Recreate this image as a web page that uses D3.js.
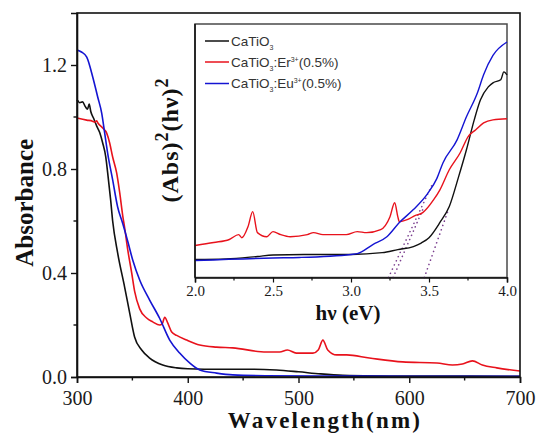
<!DOCTYPE html>
<html>
<head>
<meta charset="utf-8">
<script src="https://cdn.jsdelivr.net/npm/d3@7"></script>
<style>
  html, body { margin: 0; padding: 0; background: #fff; }
  svg { display: block; }
</style>
</head>
<body>
<svg id="chart" width="537" height="435"></svg>
<script>
// UV-Vis absorbance spectra: [wavelength (nm), absorbance]
const pureSpectrum = [
  [300, 1.066], [300.6, 1.063], [302.5, 1.055], [305, 1.058], [307.5, 1.04], [309.5, 1.03],
  [311, 1.05], [312.5, 1.02], [315, 0.995], [317.8, 0.965], [320.5, 0.94], [323.2, 0.90],
  [326, 0.846], [327.7, 0.785], [330.4, 0.68], [332.2, 0.60], [336.7, 0.477], [343, 0.346],
  [347.6, 0.246], [352, 0.154], [358.4, 0.104], [365.6, 0.073], [377.4, 0.046], [390, 0.035],
  [400, 0.032], [430, 0.030], [460, 0.030], [480, 0.027], [500, 0.020], [520, 0.012],
  [540, 0.007], [600, 0.004], [700, 0.003]
];
const erSpectrum = [
  [300, 0.996], [308.8, 0.988], [314, 0.984], [316, 0.98], [317.8, 0.985], [319, 0.976],
  [323.2, 0.958], [326.8, 0.938], [329.5, 0.90], [332.2, 0.846], [335.8, 0.785], [338.6, 0.708],
  [341.3, 0.62], [343, 0.575], [345.8, 0.49], [349.4, 0.40], [352, 0.33], [356.6, 0.262],
  [362.9, 0.227], [368.4, 0.212], [374.7, 0.20], [377, 0.205], [379.2, 0.23], [381.9, 0.208],
  [385.5, 0.173], [390, 0.16], [399, 0.142], [410.8, 0.123], [426, 0.115], [440.6, 0.112],
  [471, 0.096], [483, 0.096], [490, 0.104], [498, 0.092], [513, 0.092], [518, 0.105],
  [522, 0.142], [526.4, 0.104], [534.5, 0.085], [543.5, 0.085], [564, 0.073], [594, 0.058],
  [625, 0.054], [639, 0.046], [648, 0.05], [657, 0.062], [666, 0.046], [679, 0.035], [700, 0.023]
];
const euSpectrum = [
  [300, 1.258], [304, 1.25], [308.8, 1.23], [314.2, 1.154], [318.7, 1.077], [322.3, 1.015],
  [325, 0.938], [327.7, 0.86], [332.2, 0.758], [336.7, 0.654], [341.3, 0.59], [345.8, 0.522],
  [350.3, 0.45], [356.6, 0.373], [365.6, 0.296], [374.7, 0.225], [383.7, 0.142], [392.7, 0.092],
  [401.7, 0.054], [410.8, 0.027], [426, 0.015], [440.6, 0.008], [470, 0.005], [520, 0.004],
  [600, 0.003], [700, 0.003]
];

// Tauc plot: [photon energy (eV), (Abs·hν)^2 in arbitrary units]
const pureTauc = [
  [2.0, 0.071], [2.2, 0.073], [2.4, 0.083], [2.5, 0.089], [2.7, 0.091], [3.0, 0.091],
  [3.2, 0.098], [3.3, 0.110], [3.4, 0.122], [3.45, 0.136], [3.5, 0.157], [3.57, 0.217],
  [3.63, 0.280], [3.69, 0.398], [3.74, 0.504], [3.79, 0.622], [3.83, 0.701], [3.88, 0.752],
  [3.91, 0.768], [3.96, 0.780], [3.98, 0.811], [4.0, 0.799]
];
const erTauc = [
  [2.0, 0.126], [2.12, 0.138], [2.22, 0.150], [2.28, 0.169], [2.30, 0.157], [2.34, 0.201],
  [2.37, 0.260], [2.40, 0.177], [2.46, 0.161], [2.50, 0.181], [2.55, 0.169], [2.61, 0.161],
  [2.72, 0.169], [2.76, 0.177], [2.82, 0.169], [2.97, 0.169], [3.04, 0.181], [3.1, 0.177],
  [3.19, 0.189], [3.25, 0.240], [3.28, 0.295], [3.30, 0.240], [3.31, 0.220], [3.36, 0.228],
  [3.41, 0.244], [3.46, 0.256], [3.53, 0.307], [3.57, 0.346], [3.63, 0.425], [3.70, 0.492],
  [3.75, 0.555], [3.80, 0.583], [3.85, 0.610], [3.91, 0.622], [4.0, 0.626]
];
const euTauc = [
  [2.0, 0.067], [2.5, 0.077], [2.67, 0.079], [3.0, 0.091], [3.04, 0.094], [3.14, 0.130],
  [3.23, 0.161], [3.31, 0.217], [3.4, 0.268], [3.49, 0.33], [3.55, 0.39], [3.59, 0.453],
  [3.68, 0.543], [3.74, 0.634], [3.81, 0.728], [3.85, 0.80], [3.91, 0.876], [4.0, 0.929]
];
// Band-gap extrapolation lines: [[eV, value], [eV, value]]
const tangentLines = [
  [[3.24, 0.0], [3.52, 0.366]],
  [[3.27, 0.0], [3.46, 0.268]],
  [[3.47, 0.0], [3.62, 0.26]]
];

const mainXTicks = [300, 400, 500, 600, 700];
const mainXMinor = [350, 450, 550, 650];
const mainYTicks = [0.0, 0.4, 0.8, 1.2];
const mainYMinor = [0.2, 0.6, 1.0];
const insetXTicks = [2.0, 2.5, 3.0, 3.5, 4.0];
const insetXMinor = [2.25, 2.75, 3.25, 3.75];

const seriesColors = ["#111111", "#e8121c", "#1414d2"];

const svg = d3.select("#chart");
const serif = "'Liberation Serif', 'Times New Roman', serif";
const sans = "'Liberation Sans', Arial, sans-serif";

// ---------- main spectrum panel ----------
const mx = d3.scaleLinear().domain([300, 700]).range([77, 520]);
const my = d3.scaleLinear().domain([0, 1.4]).range([377, 13]);

const mainLine = d3.line()
  .x(d => mx(d[0])).y(d => my(d[1]))
  .curve(d3.curveMonotoneX);

[pureSpectrum, erSpectrum, euSpectrum].forEach((s, i) => {
  svg.append("path")
    .datum(s)
    .attr("d", mainLine)
    .attr("fill", "none")
    .attr("stroke", seriesColors[i])
    .attr("stroke-width", 1.6)
    .attr("stroke-linejoin", "round");
});

// frame
svg.append("rect")
  .attr("x", mx(300)).attr("y", my(1.4))
  .attr("width", mx(700) - mx(300)).attr("height", my(0) - my(1.4))
  .attr("fill", "none").attr("stroke", "#111").attr("stroke-width", 1.6);

const xAxis = svg.append("g")
  .attr("transform", `translate(0,${my(0)})`)
  .call(d3.axisBottom(mx).tickValues(mainXTicks).tickFormat(d3.format("d")).tickSize(6).tickPadding(8));
xAxis.append("g").selectAll("line").data(mainXMinor).join("line")
  .attr("x1", d => mx(d)).attr("x2", d => mx(d)).attr("y1", 0).attr("y2", 3.5)
  .attr("stroke", "#111").attr("stroke-width", 1.4);

const yAxis = svg.append("g")
  .attr("transform", `translate(${mx(300)},0)`)
  .call(d3.axisLeft(my).tickValues(mainYTicks).tickFormat(d3.format(".1f")).tickSize(6).tickPadding(4));
yAxis.append("g").selectAll("line").data(mainYMinor).join("line")
  .attr("x1", 0).attr("x2", -3.5).attr("y1", d => my(d)).attr("y2", d => my(d))
  .attr("stroke", "#111").attr("stroke-width", 1.4);

[xAxis, yAxis].forEach(a => {
  a.select(".domain").attr("stroke", "#111").attr("stroke-width", 1.6);
  a.selectAll(".tick line").attr("stroke", "#111").attr("stroke-width", 1.4);
  a.selectAll(".tick text").attr("font-family", serif).attr("font-size", 20).attr("fill", "#1a1a1a");
});

svg.append("text")
  .attr("x", 325).attr("y", 428)
  .attr("text-anchor", "middle")
  .attr("font-family", serif).attr("font-weight", "bold").attr("font-size", 23)
  .attr("letter-spacing", 2.2)
  .attr("fill", "#111")
  .text("Wavelength(nm)");

svg.append("text")
  .attr("transform", `translate(33,${my(0.67)}) rotate(-90)`)
  .attr("text-anchor", "middle")
  .attr("font-family", serif).attr("font-weight", "bold").attr("font-size", 25)
  .attr("fill", "#111")
  .text("Absorbance");

// ---------- inset: Tauc plot ----------
const ix = d3.scaleLinear().domain([2, 4]).range([195, 507]);
const iy = d3.scaleLinear().domain([0, 1]).range([277.5, 24]);

svg.append("rect")
  .attr("x", ix(2)).attr("y", iy(1))
  .attr("width", ix(4) - ix(2)).attr("height", iy(0) - iy(1))
  .attr("fill", "#fff").attr("stroke", "#4a4a4a").attr("stroke-width", 1.5);

const insetLine = d3.line()
  .x(d => ix(d[0])).y(d => iy(d[1]))
  .curve(d3.curveMonotoneX);

tangentLines.forEach(t => {
  svg.append("path")
    .datum(t)
    .attr("d", d3.line().x(d => ix(d[0])).y(d => iy(d[1])))
    .attr("fill", "none")
    .attr("stroke", "#7b3f8f")
    .attr("stroke-width", 1.6)
    .attr("stroke-linecap", "round")
    .attr("stroke-dasharray", "0.1,4.5");
});

[pureTauc, erTauc, euTauc].forEach((s, i) => {
  svg.append("path")
    .datum(s)
    .attr("d", insetLine)
    .attr("fill", "none")
    .attr("stroke", seriesColors[i])
    .attr("stroke-width", 1.4)
    .attr("stroke-linejoin", "round");
});

const ixAxis = svg.append("g")
  .attr("transform", `translate(0,${iy(0)})`)
  .call(d3.axisBottom(ix).tickValues(insetXTicks).tickFormat(d3.format(".1f")).tickSize(5).tickPadding(3));
ixAxis.append("g").selectAll("line").data(insetXMinor).join("line")
  .attr("x1", d => ix(d)).attr("x2", d => ix(d)).attr("y1", 0).attr("y2", 3)
  .attr("stroke", "#111").attr("stroke-width", 1.2);
ixAxis.select(".domain").attr("stroke", "#111").attr("stroke-width", 1.5);
ixAxis.selectAll(".tick line").attr("stroke", "#111").attr("stroke-width", 1.2);
ixAxis.selectAll(".tick text").attr("font-family", serif).attr("font-size", 15).attr("fill", "#1a1a1a");

svg.append("line")
  .attr("x1", ix(2)).attr("x2", ix(2)).attr("y1", iy(0)).attr("y2", iy(1))
  .attr("stroke", "#111").attr("stroke-width", 1.5);

svg.append("text")
  .attr("x", 348).attr("y", 320)
  .attr("text-anchor", "middle")
  .attr("font-family", serif).attr("font-weight", "bold").attr("font-size", 21)
  .attr("fill", "#111")
  .text("hν (eV)");

const iyLabel = svg.append("text")
  .attr("transform", `translate(178,140) rotate(-90)`)
  .attr("text-anchor", "middle")
  .attr("font-family", serif).attr("font-weight", "bold").attr("font-size", 24)
  .attr("letter-spacing", 1)
  .attr("fill", "#111");
iyLabel.append("tspan").text("(Abs)");
iyLabel.append("tspan").attr("dy", -10).attr("font-size", 18).text("2");
iyLabel.append("tspan").attr("dy", 10).text("(hν)");
iyLabel.append("tspan").attr("dy", -10).attr("font-size", 18).text("2");

// legend
const legendRows = [
  { base: "CaTiO", sub: "3", rest: "", sup: "", tail: "" },
  { base: "CaTiO", sub: "3", rest: ":Er", sup: "3+", tail: "(0.5%)" },
  { base: "CaTiO", sub: "3", rest: ":Eu", sup: "3+", tail: "(0.5%)" }
];
const legendY = [41, 62, 83.5];
legendRows.forEach((r, i) => {
  const y = legendY[i];
  svg.append("line")
    .attr("x1", 205).attr("x2", 229).attr("y1", y).attr("y2", y)
    .attr("stroke", seriesColors[i]).attr("stroke-width", 1.5);
  const t = svg.append("text")
    .attr("x", 231).attr("y", y + 4.5)
    .attr("font-family", sans).attr("font-size", 13.5)
    .attr("fill", "#333");
  t.append("tspan").text(r.base);
  t.append("tspan").attr("dy", 4).attr("font-size", 7).text(r.sub);
  if (r.rest) {
    t.append("tspan").attr("dy", -4).text(r.rest);
    t.append("tspan").attr("dy", -5).attr("font-size", 7).text(r.sup);
    t.append("tspan").attr("dy", 5).text(r.tail);
  }
});
</script>
</body>
</html>
